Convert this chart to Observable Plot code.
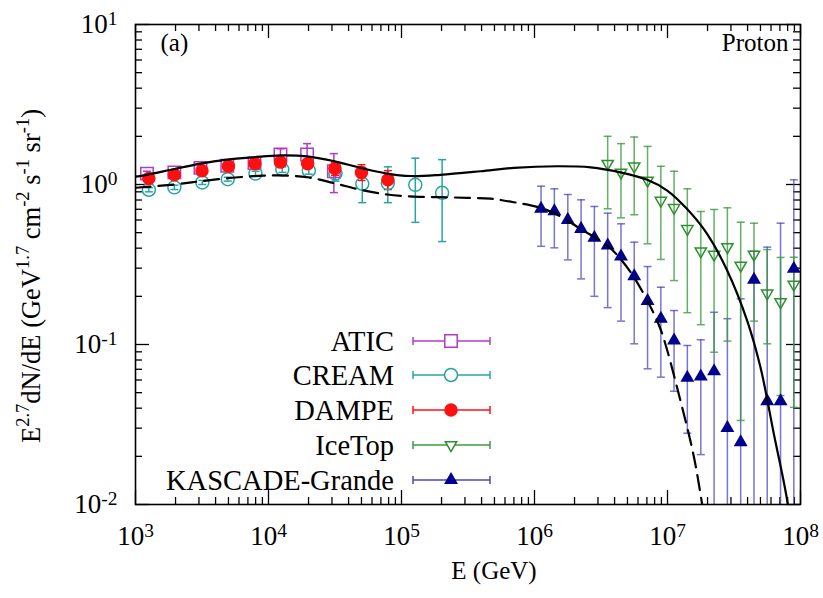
<!DOCTYPE html>
<html><head><meta charset="utf-8">
<script src="https://cdn.jsdelivr.net/npm/d3@7"></script>
<script src="https://cdn.jsdelivr.net/npm/@observablehq/plot@0.6"></script>
<style>
html,body{margin:0;padding:0;background:#fff;}
</style></head><body><div id="chart"></div>
<script>
// ---------- data ----------
const majorX = [1e3, 1e4, 1e5, 1e6, 1e7, 1e8];
const majorY = [1e-2, 1e-1, 1e0, 1e1];
const minorMult = [2, 3, 4, 5, 6, 7, 8, 9];

const aticE  = [1220, 1960, 3080, 4900, 7850, 12300, 19500, 31000];
const aticV  = [1.17, 1.19, 1.27, 1.31, 1.36, 1.54, 1.54, 1.21];
const aticLo = [1.13, 1.15, 1.22, 1.26, 1.31, 1.42, 1.30, 0.89];
const aticHi = [1.21, 1.24, 1.32, 1.37, 1.42, 1.67, 1.80, 1.56];

const creamE  = [1260, 1960, 3180, 4940, 7980, 12700, 20100, 31900, 50700, 78900, 127000, 202000];
const creamV  = [0.927, 0.96, 1.03, 1.08, 1.17, 1.24, 1.22, 1.17, 1.01, 1.02, 0.995, 0.887];
const creamLo = [0.90, 0.93, 1.00, 1.05, 1.13, 1.19, 1.16, 1.05, 0.77, 0.77, 0.58, 0.44];
const creamHi = [0.955, 0.99, 1.06, 1.11, 1.21, 1.29, 1.28, 1.30, 1.28, 1.29, 1.46, 1.43];

const dampeE  = [1260, 1960, 3160, 5000, 7900, 12300, 19700, 31600, 50000, 79000];
const dampeV  = [1.09, 1.15, 1.22, 1.30, 1.35, 1.38, 1.35, 1.26, 1.19, 1.07];
const dampeLo = [1.06, 1.12, 1.19, 1.26, 1.31, 1.32, 1.27, 1.14, 1.06, 0.93];
const dampeHi = [1.12, 1.18, 1.26, 1.34, 1.40, 1.45, 1.44, 1.38, 1.33, 1.22];

const iceE  = [3.55e6, 4.47e6, 5.62e6, 7.08e6, 8.91e6, 1.12e7, 1.41e7, 1.78e7, 2.24e7, 2.82e7, 3.55e7, 4.47e7, 5.62e7, 7.08e7, 8.91e7];
const iceV  = [1.35, 1.19, 1.30, 1.06, 0.794, 0.715, 0.528, 0.383, 0.365, 0.406, 0.312, 0.365, 0.209, 0.184, 0.237];
const iceLo = [0.705, 0.619, 0.647, 0.426, 0.340, 0.251, 0.158, 0.133, 0.0895, 0.105, 0.0335, 0.14, 0.101, 0.048, 0.0405];
const iceHi = [2.00, 1.80, 1.98, 1.73, 1.30, 1.21, 0.94, 0.678, 0.698, 0.715, 0.581, 0.573, 0.392, 0.35, 0.351];

const kgE  = [1.12e6, 1.41e6, 1.78e6, 2.24e6, 2.82e6, 3.55e6, 4.47e6, 5.62e6, 7.08e6, 8.91e6, 1.12e7, 1.41e7, 1.78e7, 2.24e7, 2.82e7, 3.55e7, 4.47e7, 5.62e7, 7.08e7, 8.91e7];
const kgV  = [0.705, 0.681, 0.601, 0.528, 0.464, 0.416, 0.355, 0.267, 0.187, 0.145, 0.106, 0.0619, 0.063, 0.068, 0.0301, 0.0245, 0.254, 0.0442, 0.0442, 0.297];
const kgLo = [0.411, 0.402, 0.338, 0.257, 0.200, 0.170, 0.140, 0.101, 0.0705, 0.0625, 0.051, 0.0279, 0.0205, 0.001, 0.001, 0.001, 0.001, 0.001, 0.001, 0.001];
const kgHi = [0.976, 0.94, 0.866, 0.802, 0.729, 0.662, 0.568, 0.436, 0.307, 0.228, 0.163, 0.0986, 0.107, 0.159, 0.145, 0.193, 0.383, 0.406, 0.573, 1.07];

const solidE = [1000, 1155, 1965, 3080, 4890, 7750, 12300, 19540, 30970, 49200, 78000, 117000, 196000, 393000, 699000, 1.48e6, 2.64e6, 4.43e6, 7.04e6, 9.95e6, 1.41e7, 1.99e7, 2.81e7, 3.97e7, 5.0e7, 6.3e7, 7.94e7, 8.6e7];
const solidV = [1.12, 1.14, 1.25, 1.35, 1.43, 1.48, 1.52, 1.50, 1.40, 1.27, 1.17, 1.13, 1.15, 1.21, 1.27, 1.30, 1.28, 1.19, 1.07, 0.917, 0.70, 0.49, 0.29, 0.141, 0.072, 0.0277, 0.0106, 0.006];

const dashE = [1000, 1965, 3080, 4890, 7750, 12300, 19540, 30970, 49200, 78000, 123600, 196000, 312000, 467000, 699000, 1.11e6, 1.57e6, 2.22e6, 3.52e6, 4.43e6, 5.58e6, 7.04e6, 8.85e6, 1.25e7, 1.58e7, 1.82e7, 1.95e7];
const dashV = [0.954, 1.0, 1.048, 1.094, 1.127, 1.14, 1.11, 1.02, 0.927, 0.866, 0.841, 0.833, 0.826, 0.815, 0.775, 0.715, 0.631, 0.528, 0.416, 0.343, 0.264, 0.188, 0.125, 0.0447, 0.0198, 0.0101, 0.007];

const seriesNames = ["ATIC", "CREAM", "DAMPE", "IceTop", "KASCADE-Grande"];

// ---------- styles ----------
const C = {
  atic: "#b03cc4", cream: "#2aa3a3", dampe: "#ff1010",
  ice: "#2f8f2f", iceBar: "#3f9a3f", kg: "#00008e", kgBar: "#4848c0"
};
const FONT = "'Liberation Serif','Times New Roman',serif";

const rows = (E, V, Lo, Hi) => E.map((e, i) => ({E: e, v: V[i], lo: Lo[i], hi: Hi[i]}));
const atic = rows(aticE, aticV, aticLo, aticHi);
const cream = rows(creamE, creamV, creamLo, creamHi);
const dampe = rows(dampeE, dampeV, dampeLo, dampeHi);
const ice = rows(iceE, iceV, iceLo, iceHi);
const kg = rows(kgE, kgV, kgLo, kgHi);
const solid = solidE.map((e, i) => ({E: e, v: solidV[i]}));
const dashed = dashE.map((e, i) => ({E: e, v: dashV[i]}));

const minorX = majorX.slice(0, -1).flatMap(d => minorMult.map(m => d * m));
const minorY = majorY.slice(0, -1).flatMap(d => minorMult.map(m => d * m));

const W = 823, H = 598, mL = 135, mR = 23, mT = 24, mB = 94;
const PW = W - mL - mR, PH = H - mT - mB;
const capSym = {draw(ctx) { ctx.moveTo(-4, 0); ctx.lineTo(4, 0); }};
const TRI_R = 4.2;

function errorMarks(data, color, op) {
  return [
    Plot.ruleX(data, {x: "E", y1: "lo", y2: "hi", stroke: color, strokeWidth: 1.5, strokeOpacity: op, clip: true}),
    Plot.dot(data, {x: "E", y: "lo", symbol: capSym, r: 1, stroke: color, fill: "none", strokeWidth: 1.5, strokeOpacity: op, clip: true}),
    Plot.dot(data, {x: "E", y: "hi", symbol: capSym, r: 1, stroke: color, fill: "none", strokeWidth: 1.5, strokeOpacity: op, clip: true})
  ];
}

const sup = e => "10^" + Math.round(Math.log10(e));

const chart = Plot.plot({
  width: W, height: H,
  marginLeft: mL, marginRight: mR, marginTop: mT, marginBottom: mB,
  style: {fontFamily: FONT, fontSize: "27px", background: "white", color: "black"},
  x: {type: "log", domain: [1e3, 1e8]},
  y: {type: "log", domain: [1e-2, 1e1]},
  marks: [
    // tick labels
    Plot.axisX({ticks: majorX, tickSize: 0, tickPadding: 21, tickFormat: sup, fontSize: 27, label: null}),
    Plot.axisY({ticks: majorY, tickSize: 0, tickPadding: 18, tickFormat: sup, fontSize: 27, label: null}),
    // inward ticks on all four sides
    Plot.ruleX(majorX, {x: d => d, insetTop: PH - 14, stroke: "black", strokeWidth: 1.3}),
    Plot.ruleX(majorX, {x: d => d, insetBottom: PH - 14, stroke: "black", strokeWidth: 1.3}),
    Plot.ruleX(minorX, {x: d => d, insetTop: PH - 7, stroke: "black", strokeWidth: 1.3}),
    Plot.ruleX(minorX, {x: d => d, insetBottom: PH - 7, stroke: "black", strokeWidth: 1.3}),
    Plot.ruleY(majorY, {y: d => d, insetRight: PW - 14, stroke: "black", strokeWidth: 1.3}),
    Plot.ruleY(majorY, {y: d => d, insetLeft: PW - 14, stroke: "black", strokeWidth: 1.3}),
    Plot.ruleY(minorY, {y: d => d, insetRight: PW - 7, stroke: "black", strokeWidth: 1.3}),
    Plot.ruleY(minorY, {y: d => d, insetLeft: PW - 7, stroke: "black", strokeWidth: 1.3}),
    // error bars
    ...errorMarks(kg, C.kgBar, 0.75),
    ...errorMarks(ice, C.iceBar, 0.8),
    ...errorMarks(atic, C.atic, 1),
    ...errorMarks(cream, C.cream, 1),
    ...errorMarks(dampe, C.dampe, 1),
    // markers
    Plot.dot(atic, {x: "E", y: "v", symbol: "square", r: 7, stroke: C.atic, fill: "none", strokeWidth: 1.5}),
    Plot.dot(cream, {x: "E", y: "v", symbol: "circle", r: 6.5, stroke: C.cream, fill: "none", strokeWidth: 1.5}),
    Plot.dot(dampe, {x: "E", y: "v", symbol: "circle", r: 6, stroke: C.dampe, fill: C.dampe}),
    Plot.dot(ice, {x: "E", y: "v", symbol: "triangle", rotate: 180, r: TRI_R, stroke: C.ice, fill: "none", strokeWidth: 1.5}),
    Plot.dot(kg, {x: "E", y: "v", symbol: "triangle", r: TRI_R, stroke: C.kg, fill: C.kg}),
    // model curves
    Plot.line(solid, {x: "E", y: "v", curve: "catmull-rom", stroke: "black", strokeWidth: 2.2, clip: true}),
    Plot.line(dashed, {x: "E", y: "v", curve: "catmull-rom", stroke: "black", strokeWidth: 2.2, strokeDasharray: "15,8", clip: true}),
    // annotations
    Plot.text(["(a)"], {text: d => d, frameAnchor: "top-left", dx: 25, dy: 9, fontSize: 25}),
    Plot.text(["Proton"], {text: d => d, frameAnchor: "top-right", dx: -12, dy: 9, fontSize: 25}),
    Plot.text(["E (GeV)"], {text: d => d, frameAnchor: "bottom", dx: 26, dy: 74, fontSize: 25}),
    Plot.frame({stroke: "black", strokeWidth: 1.6})
  ]
});
document.getElementById("chart").appendChild(chart);

const svg = d3.select(chart);
// superscripts in tick labels
svg.selectAll("text").each(function () {
  const t = d3.select(this);
  const s = this.textContent;
  const m = /^(\d+)\^(-?\d+)$/.exec(s);
  if (!m) return;
  t.text(null);
  t.append("tspan").text(m[1]);
  t.append("tspan").attr("dy", "-0.42em").attr("font-size", "72%").text(m[2]);
});

// y-axis title
const yl = svg.append("text")
  .attr("transform", `translate(40,${mT + PH / 2 + 12}) rotate(-90)`)
  .attr("text-anchor", "middle").attr("font-family", FONT).attr("font-size", 26.5).attr("fill", "black");
const parts = [["E", 0], ["2.7", 1], ["dN/dE (GeV", 0], ["1.7", 1], [" cm", 0], ["-2", 1], [" s", 0], ["-1", 1], [" sr", 0], ["-1", 1], [")", 0]];
let prevSup = false;
for (const [txt, isSup] of parts) {
  const ts = yl.append("tspan").text(txt);
  if (isSup) { ts.attr("font-size", 18.5).attr("dy", -11); prevSup = true; }
  else if (prevSup) { ts.attr("dy", 11); prevSup = false; }
}

// legend
const legendColors = [C.atic, C.cream, C.dampe, C.iceBar, C.kgBar];
const legendY = [341, 375, 410, 445, 480];
const g = svg.append("g").attr("font-family", FONT).attr("font-size", 28.5);
seriesNames.forEach((name, i) => {
  const y = legendY[i], col = legendColors[i];
  g.append("text").attr("x", 394).attr("y", y).attr("dy", "0.34em").attr("text-anchor", "end").attr("fill", "black").text(name);
  g.append("line").attr("x1", 413).attr("x2", 490).attr("y1", y).attr("y2", y).attr("stroke", col).attr("stroke-width", 1.5);
  g.append("line").attr("x1", 413).attr("x2", 413).attr("y1", y - 4).attr("y2", y + 4).attr("stroke", col).attr("stroke-width", 1.5);
  g.append("line").attr("x1", 490).attr("x2", 490).attr("y1", y - 4).attr("y2", y + 4).attr("stroke", col).attr("stroke-width", 1.5);
  let sym, fill, stroke, rot = 0, r;
  if (i === 0) { sym = d3.symbolSquare; r = 7; fill = "white"; stroke = C.atic; }
  if (i === 1) { sym = d3.symbolCircle; r = 6.5; fill = "white"; stroke = C.cream; }
  if (i === 2) { sym = d3.symbolCircle; r = 6; fill = C.dampe; stroke = C.dampe; }
  if (i === 3) { sym = d3.symbolTriangle; r = TRI_R; fill = "white"; stroke = C.ice; rot = 180; }
  if (i === 4) { sym = d3.symbolTriangle; r = TRI_R; fill = C.kg; stroke = C.kg; }
  g.append("path").attr("d", d3.symbol(sym, Math.PI * r * r)())
    .attr("transform", `translate(451,${y}) rotate(${rot})`)
    .attr("fill", fill).attr("stroke", stroke).attr("stroke-width", 1.5);
});
</script></body></html>
